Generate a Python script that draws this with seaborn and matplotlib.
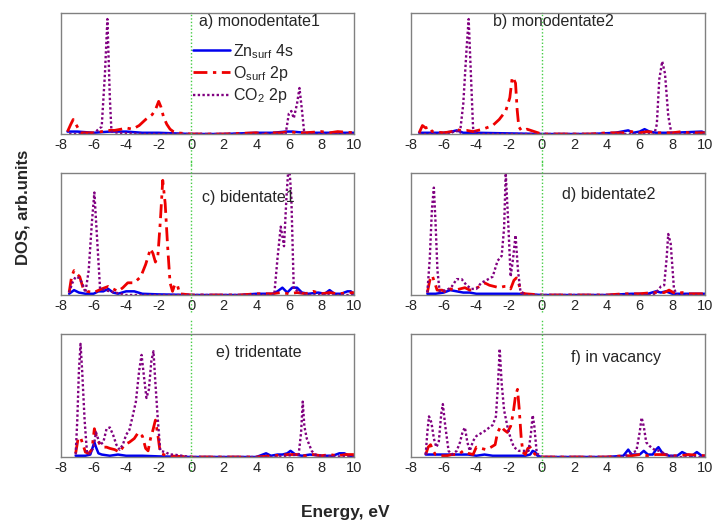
import matplotlib
matplotlib.use("Agg")
import matplotlib.pyplot as plt
import seaborn as sns

# ---------------- data (energy in eV, DOS in arb. units) ----------------
X_TICKS = [-8, -6, -4, -2, 0, 2, 4, 6, 8, 10]
TITLES = ["a) monodentate1", "b) monodentate2", "c) bidentate1",
          "d) bidentate2", "e) tridentate", "f) in vacancy"]
LABELS = ["Zn$_{\\mathrm{surf}}$ 4s", "O$_{\\mathrm{surf}}$ 2p", "CO$_2$ 2p"]

# a) monodentate1
A_ZN_E = [-7.6, -7, -6, -5, -4, -3, -2, -1, 0, 2, 4, 5, 5.8, 6.2, 7, 8, 9, 10]
A_ZN_D = [0.02, 0.02, 0.01, 0.02, 0.02, 0.01, 0.01, 0.005, 0.0, 0.0, 0.01, 0.01, 0.02, 0.02, 0.01, 0.01, 0.01, 0.01]
A_O_E = [-7.6, -7.4, -7.25, -7.0, -6.8, -6.0, -5.5, -5.2, -5.0, -4.7, -4.3, -4.0, -3.6, -3.2, -2.8, -2.4, -2.2, -2.0,
         -1.85, -1.7, -1.5, -1.3, -1.1, -0.9, 0, 2, 4, 4.5, 5, 5.5, 6, 6.5, 7, 8, 8.5, 9, 10]
A_O_D = [0.02, 0.08, 0.12, 0.06, 0.01, 0.01, 0.02, 0.03, 0.03, 0.03, 0.04, 0.05, 0.04, 0.07, 0.12, 0.16, 0.2, 0.27,
         0.22, 0.14, 0.08, 0.04, 0.02, 0.01, 0.0, 0.0, 0.01, 0.0, 0.01, 0.01, 0.02, 0.01, 0.01, 0.02, 0.01, 0.02, 0.01]
A_C_E = [-7.5, -6.0, -5.7, -5.5, -5.3, -5.15, -5.0, -4.9, -4.5, -3, -1, 0, 4, 5.8, 6.0, 6.15, 6.3, 6.5, 6.65, 6.8,
         6.95, 8, 10]
A_C_D = [0.0, 0.0, 0.04, 0.06, 0.5, 0.95, 0.3, 0.02, 0.01, 0.0, 0.0, 0.0, 0.0, 0.0, 0.17, 0.19, 0.13, 0.25, 0.38, 0.2,
         0.0, 0.0, 0.0]

# b) monodentate2
B_ZN_E = [-7.5, -6, -5.5, -5.2, -4.8, -4, -2, 0, 3, 4.5, 5.3, 5.6, 6.0, 6.3, 6.6, 7, 8, 9.8, 10]
B_ZN_D = [0.01, 0.01, 0.02, 0.03, 0.01, 0.01, 0.005, 0, 0, 0.01, 0.03, 0.01, 0.02, 0.04, 0.02, 0.01, 0.01, 0.02, 0.01]
B_O_E = [-7.5, -7.3, -7.1, -6.9, -6.7, -6.0, -5.5, -5.3, -5.0, -4.6, -4.2, -3.6, -3.0, -2.6, -2.2, -1.95, -1.8, -1.7,
         -1.6, -1.5, -1.4, -1.25, -1.1, -0.9, 0, 3, 4, 5, 5.5, 6, 6.5, 7, 8, 8.6, 9, 10]
B_O_D = [0.01, 0.07, 0.05, 0.06, 0.02, 0.01, 0.02, 0.04, 0.03, 0.03, 0.02, 0.04, 0.07, 0.12, 0.19, 0.3, 0.47, 0.45,
         0.42, 0.2, 0.06, 0.03, 0.03, 0.04, 0.0, 0.0, 0.01, 0.01, 0.02, 0.01, 0.02, 0.01, 0.01, 0.02, 0.01, 0.01]
B_C_E = [-7.5, -5.6, -5.3, -5.0, -4.8, -4.6, -4.47, -4.35, -4.2, -4.0, -3, 0, 5, 6.9, 7.05, 7.2, 7.38, 7.55, 7.75,
         7.95, 8.5, 10]
B_C_D = [0, 0, 0.03, 0.01, 0.25, 0.7, 0.95, 0.55, 0.05, 0.0, 0, 0, 0, 0.0, 0.08, 0.45, 0.6, 0.5, 0.15, 0.0, 0.0, 0.0]

# c) bidentate1
C_ZN_E = [-7.5, -7.2, -6.9, -6.5, -6.0, -5.7, -5.4, -5.1, -4.8, -4.5, -4.0, -3.5, -3.0, -2, 0, 3, 4, 5, 5.3, 5.6,
          5.9, 6.2, 6.5, 6.8, 7.2, 7.8, 8.2, 8.5, 8.8, 9.2, 9.6, 9.8, 10]
C_ZN_D = [0.01, 0.04, 0.02, 0.01, 0.01, 0.03, 0.03, 0.05, 0.02, 0.01, 0.03, 0.03, 0.01, 0.005, 0, 0, 0.01, 0.01,
          0.03, 0.06, 0.02, 0.06, 0.06, 0.02, 0.01, 0.02, 0.01, 0.04, 0.01, 0.01, 0.03, 0.03, 0.01]
C_O_E = [-7.5, -7.35, -7.2, -7.0, -6.85, -6.65, -6.4, -6.0, -5.5, -5.1, -4.8, -4.5, -4.2, -3.9, -3.5, -3.1, -2.8,
         -2.5, -2.35, -2.2, -2.05, -1.9, -1.75, -1.6, -1.45, -1.3, -1.15, -1.0, -0.85, -0.7, 0, 3, 4, 5, 5.5, 6, 6.5,
         7, 7.5, 8, 8.5, 9, 10]
C_O_D = [0.02, 0.15, 0.2, 0.17, 0.15, 0.06, 0.03, 0.02, 0.05, 0.07, 0.05, 0.03, 0.06, 0.1, 0.1, 0.15, 0.25, 0.38,
         0.34, 0.27, 0.32, 0.6, 0.94, 0.75, 0.4, 0.1, 0.03, 0.09, 0.08, 0.01, 0.0, 0.0, 0.01, 0.01, 0.02, 0.01, 0.02,
         0.01, 0.03, 0.01, 0.02, 0.01, 0.02]
C_C_E = [-7.5, -7.3, -7.1, -6.9, -6.7, -6.5, -6.3, -6.1, -5.95, -5.8, -5.6, -5.3, -5.0, -4.0, 0, 4, 5.1, 5.3, 5.5,
         5.7, 5.85, 6.0, 6.15, 6.3, 7, 10]
C_C_D = [0.02, 0.1, 0.15, 0.14, 0.1, 0.02, 0.2, 0.6, 0.84, 0.5, 0.05, 0.04, 0.03, 0.0, 0.0, 0.0, 0.0, 0.3, 0.56,
         0.4, 0.8, 1.1, 0.8, 0.05, 0.0, 0.0]

# d) bidentate2
D_ZN_E = [-7.0, -6.5, -6.0, -5.6, -5.2, -4.8, -4.4, -4.0, -3.0, -2.0, -1.5, 0, 4, 5.5, 6.5, 7.0, 7.3, 7.6, 8.0, 9, 10]
D_ZN_D = [0.01, 0.01, 0.02, 0.04, 0.03, 0.02, 0.02, 0.01, 0.01, 0.01, 0.01, 0, 0, 0.01, 0.01, 0.03, 0.02, 0.03,
          0.01, 0.01, 0.01]
D_O_E = [-7.0, -6.85, -6.7, -6.55, -6.4, -6.1, -5.8, -5.6, -5.3, -5.0, -4.7, -4.4, -4.1, -3.8, -3.5, -3.2, -2.9,
         -2.6, -2.3, -2.1, -1.9, -1.7, -1.55, -1.4, -1.25, -1.0, 0, 4, 5, 6, 6.8, 7.5, 7.8, 8.2, 8.6, 9, 10]
D_O_D = [0.02, 0.12, 0.16, 0.1, 0.04, 0.04, 0.02, 0.05, 0.04, 0.05, 0.06, 0.04, 0.05, 0.07, 0.1, 0.08, 0.07, 0.06,
         0.07, 0.07, 0.05, 0.12, 0.14, 0.09, 0.02, 0.01, 0.0, 0.0, 0.01, 0.01, 0.02, 0.02, 0.04, 0.01, 0.02, 0.01, 0.01]
D_C_E = [-7.0, -6.85, -6.72, -6.6, -6.5, -6.38, -6.25, -5.8, -5.5, -5.2, -4.9, -4.6, -4.3, -4.0, -3.7, -3.4, -3.0,
         -2.7, -2.45, -2.3, -2.2, -2.05, -1.9, -1.75, -1.6, -1.45, -1.3, -1.0, 0, 5, 6.8, 7.0, 7.3, 7.5, 7.65, 7.75,
         7.9, 8.1, 8.3, 10]
D_C_D = [0.02, 0.3, 0.7, 0.88, 0.6, 0.2, 0.03, 0.04, 0.07, 0.13, 0.13, 0.08, 0.05, 0.05, 0.1, 0.12, 0.15, 0.28,
         0.32, 0.55, 1.0, 0.6, 0.15, 0.3, 0.49, 0.2, 0.03, 0.0, 0.0, 0.0, 0.0, 0.02, 0.07, 0.08, 0.3, 0.5, 0.42, 0.05,
         0.0, 0.0]

# e) tridentate
E_ZN_E = [-7.1, -6.5, -6.2, -6.05, -5.95, -5.85, -5.7, -5.5, -5.0, -4.5, -4.0, -3.0, -2.0, 0, 4.0, 4.6, 4.9, 5.3,
          5.6, 5.9, 6.1, 6.4, 6.8, 7.3, 8.0, 8.7, 9.1, 9.4, 9.7, 10]
E_ZN_D = [0.01, 0.01, 0.02, 0.08, 0.12, 0.08, 0.03, 0.02, 0.01, 0.02, 0.01, 0.01, 0.005, 0.0, 0.0, 0.03, 0.01, 0.02,
          0.02, 0.03, 0.05, 0.02, 0.01, 0.02, 0.01, 0.01, 0.03, 0.03, 0.01, 0.01]
E_O_E = [-7.1, -6.95, -6.8, -6.65, -6.5, -6.3, -6.1, -5.95, -5.8, -5.6, -5.4, -5.2, -5.0, -4.7, -4.4, -4.1, -3.8,
         -3.5, -3.25, -3.0, -2.8, -2.65, -2.5, -2.35, -2.2, -2.05, -1.9, -1.5, 0, 4, 5, 6, 6.5, 7, 7.5, 8, 8.5, 9,
         9.5, 10]
E_O_D = [0.03, 0.15, 0.16, 0.1, 0.04, 0.03, 0.06, 0.23, 0.15, 0.1, 0.08, 0.08, 0.07, 0.06, 0.04, 0.1, 0.12, 0.15,
         0.2, 0.17, 0.07, 0.05, 0.15, 0.22, 0.3, 0.18, 0.03, 0.01, 0.0, 0.0, 0.01, 0.02, 0.02, 0.01, 0.02, 0.01, 0.02,
         0.01, 0.02, 0.02]
E_C_E = [-7.1, -7.0, -6.9, -6.8, -6.7, -6.55, -6.4, -6.2, -6.0, -5.85, -5.6, -5.4, -5.2, -5.0, -4.8, -4.6, -4.4,
         -4.2, -4.0, -3.8, -3.6, -3.4, -3.2, -3.05, -2.9, -2.75, -2.6, -2.45, -2.32, -2.2, -2.05, -1.9, -1.6, -1.3,
         -1.1, 0, 5, 6.6, 6.75, 6.85, 6.95, 7.1, 7.25, 7.4, 7.6, 8, 10]
E_C_D = [0.02, 0.3, 0.7, 0.92, 0.7, 0.3, 0.03, 0.03, 0.08, 0.2, 0.1, 0.12, 0.23, 0.24, 0.18, 0.1, 0.06, 0.1, 0.18,
         0.22, 0.33, 0.45, 0.7, 0.83, 0.65, 0.48, 0.55, 0.78, 0.86, 0.6, 0.3, 0.05, 0.04, 0.02, 0.02, 0.0, 0.0, 0.02,
         0.2, 0.45, 0.25, 0.15, 0.1, 0.05, 0.02, 0.01, 0.0]

# f) in vacancy
F_ZN_E = [-7.1, -6.5, -6.0, -5.5, -5.0, -4.5, -4.0, -3.5, -3.0, -2.0, -1.0, -0.7, -0.55, -0.4, -0.25, 0, 4, 5.0,
          5.3, 5.5, 5.8, 6.0, 6.25, 6.5, 6.8, 7.0, 7.15, 7.4, 7.8, 8.3, 8.6, 8.9, 9.2, 9.5, 9.8, 10]
F_ZN_D = [0.02, 0.02, 0.02, 0.02, 0.02, 0.02, 0.01, 0.02, 0.01, 0.01, 0.01, 0.02, 0.05, 0.04, 0.01, 0.0, 0.0, 0.01,
          0.06, 0.02, 0.02, 0.02, 0.05, 0.02, 0.02, 0.06, 0.08, 0.03, 0.01, 0.01, 0.04, 0.02, 0.01, 0.04, 0.01, 0.01]
F_O_E = [-7.1, -6.95, -6.8, -6.65, -6.5, -6.2, -5.8, -5.5, -5.1, -4.8, -4.5, -4.2, -4.0, -3.7, -3.4, -3.1, -2.85,
         -2.7, -2.5, -2.3, -2.1, -1.9, -1.75, -1.6, -1.48, -1.38, -1.25, -1.15, -1.0, -0.85, -0.7, -0.55, -0.3, 0, 4,
         5, 5.5, 6, 6.5, 7, 7.5, 8, 8.5, 9, 10]
F_O_D = [0.02, 0.08, 0.1, 0.05, 0.02, 0.01, 0.01, 0.02, 0.02, 0.05, 0.03, 0.02, 0.08, 0.07, 0.06, 0.08, 0.1, 0.2,
         0.25, 0.22, 0.2, 0.25, 0.35, 0.5, 0.55, 0.4, 0.15, 0.04, 0.02, 0.07, 0.08, 0.04, 0.01, 0.0, 0.0, 0.01, 0.01,
         0.02, 0.01, 0.02, 0.02, 0.01, 0.01, 0.02, 0.01]
F_C_E = [-7.1, -7.0, -6.9, -6.75, -6.6, -6.45, -6.3, -6.15, -6.05, -5.9, -5.7, -5.5, -5.2, -5.0, -4.85, -4.7, -4.55,
         -4.4, -4.2, -4.0, -3.5, -3.0, -2.8, -2.67, -2.57, -2.45, -2.3, -2.1, -1.9, -1.7, -1.4, -1.1, -0.8, -0.65,
         -0.55, -0.45, -0.3, -0.1, 0, 5, 5.8, 6.0, 6.12, 6.25, 6.4, 6.6, 6.9, 7.2, 7.5, 7.8, 8.5, 10]
F_C_D = [0.02, 0.2, 0.33, 0.28, 0.15, 0.08, 0.12, 0.35, 0.43, 0.25, 0.05, 0.02, 0.05, 0.12, 0.2, 0.24, 0.12, 0.05,
         0.13, 0.17, 0.21, 0.26, 0.33, 0.6, 0.88, 0.6, 0.38, 0.25, 0.15, 0.08, 0.05, 0.05, 0.05, 0.2, 0.34, 0.25, 0.03,
         0.01, 0.0, 0.0, 0.05, 0.2, 0.32, 0.25, 0.12, 0.09, 0.06, 0.05, 0.03, 0.01, 0.0, 0.0]

PANELS = [
    [(A_ZN_E, A_ZN_D), (A_O_E, A_O_D), (A_C_E, A_C_D)],
    [(B_ZN_E, B_ZN_D), (B_O_E, B_O_D), (B_C_E, B_C_D)],
    [(C_ZN_E, C_ZN_D), (C_O_E, C_O_D), (C_C_E, C_C_D)],
    [(D_ZN_E, D_ZN_D), (D_O_E, D_O_D), (D_C_E, D_C_D)],
    [(E_ZN_E, E_ZN_D), (E_O_E, E_O_D), (E_C_E, E_C_D)],
    [(F_ZN_E, F_ZN_D), (F_O_E, F_O_D), (F_C_E, F_C_D)],
]

# ---------------- style ----------------
sns.set_style("white")
plt.rcParams["font.family"] = ["Liberation Sans", "DejaVu Sans"]
plt.rcParams["mathtext.fontset"] = "custom"
plt.rcParams["mathtext.rm"] = "Liberation Sans"
plt.rcParams["axes.unicode_minus"] = False

COLORS = ["#0000ee", "#ee0000", "#800080"]
STYLES = ["-", (0, (5, 2, 1.2, 2)), (0, (1, 1))]
WIDTHS = [1.8, 2.0, 1.7]

fig = plt.figure(figsize=(7.12, 5.25), dpi=100)
W, H = 712.0, 525.0
cols = [(61, 354), (411, 705)]
rows = [(13, 134), (173, 295), (334, 457)]
green_ext = [(-0.26, 1.01), (-0.14, 1.11), (-0.11, 1.11)]
title_pos = [(0.47, 0.93), (0.28, 0.93), (0.48, 0.80), (0.515, 0.82), (0.53, 0.85), (0.545, 0.81)]

for i, series in enumerate(PANELS):
    r, c = divmod(i, 2)
    x0, x1 = cols[c]
    y0, y1 = rows[r]
    ax = fig.add_axes([x0 / W, 1 - y1 / H, (x1 - x0) / W, (y1 - y0) / H])
    for k, (e, d) in enumerate(series):
        sns.lineplot(x=e, y=d, ax=ax, color=COLORS[k], linestyle=STYLES[k], linewidth=WIDTHS[k],
                     sort=False, estimator=None, label=LABELS[k] if i == 0 else None, legend=False)
    ax.axvline(0, ymin=green_ext[r][0], ymax=green_ext[r][1], color="#44cc44", linestyle=(0, (1, 1.5)),
               linewidth=1.0, clip_on=False, zorder=5)
    ax.set_xlim(-8, 10)
    ax.set_ylim(0, 1.0)
    ax.set_xticks(X_TICKS)
    ax.set_xticklabels([str(t) for t in X_TICKS])
    ax.set_yticks([])
    ax.tick_params(axis="x", length=0, pad=3, labelsize=10.5)
    for sp in ax.spines.values():
        sp.set_color("#808080")
        sp.set_linewidth(1.0)
    ax.text(title_pos[i][0], title_pos[i][1], TITLES[i], transform=ax.transAxes, fontsize=11.5,
            ha="left", va="center")
    if i == 0:
        ax.legend(loc="upper left", bbox_to_anchor=(0.45, 0.76), frameon=False, fontsize=11.5,
                  handlelength=2.3, handletextpad=0.2, labelspacing=0.2, borderpad=0, borderaxespad=0)

fig.text(23 / W, 1 - 207 / H, "DOS, arb.units", rotation=90, ha="center", va="center",
         fontsize=12, fontweight="bold")
fig.text(345 / W, 1 - 512 / H, "Energy, eV", ha="center", va="center", fontsize=12.5, fontweight="bold")

fig.savefig("out.png", dpi=100)
